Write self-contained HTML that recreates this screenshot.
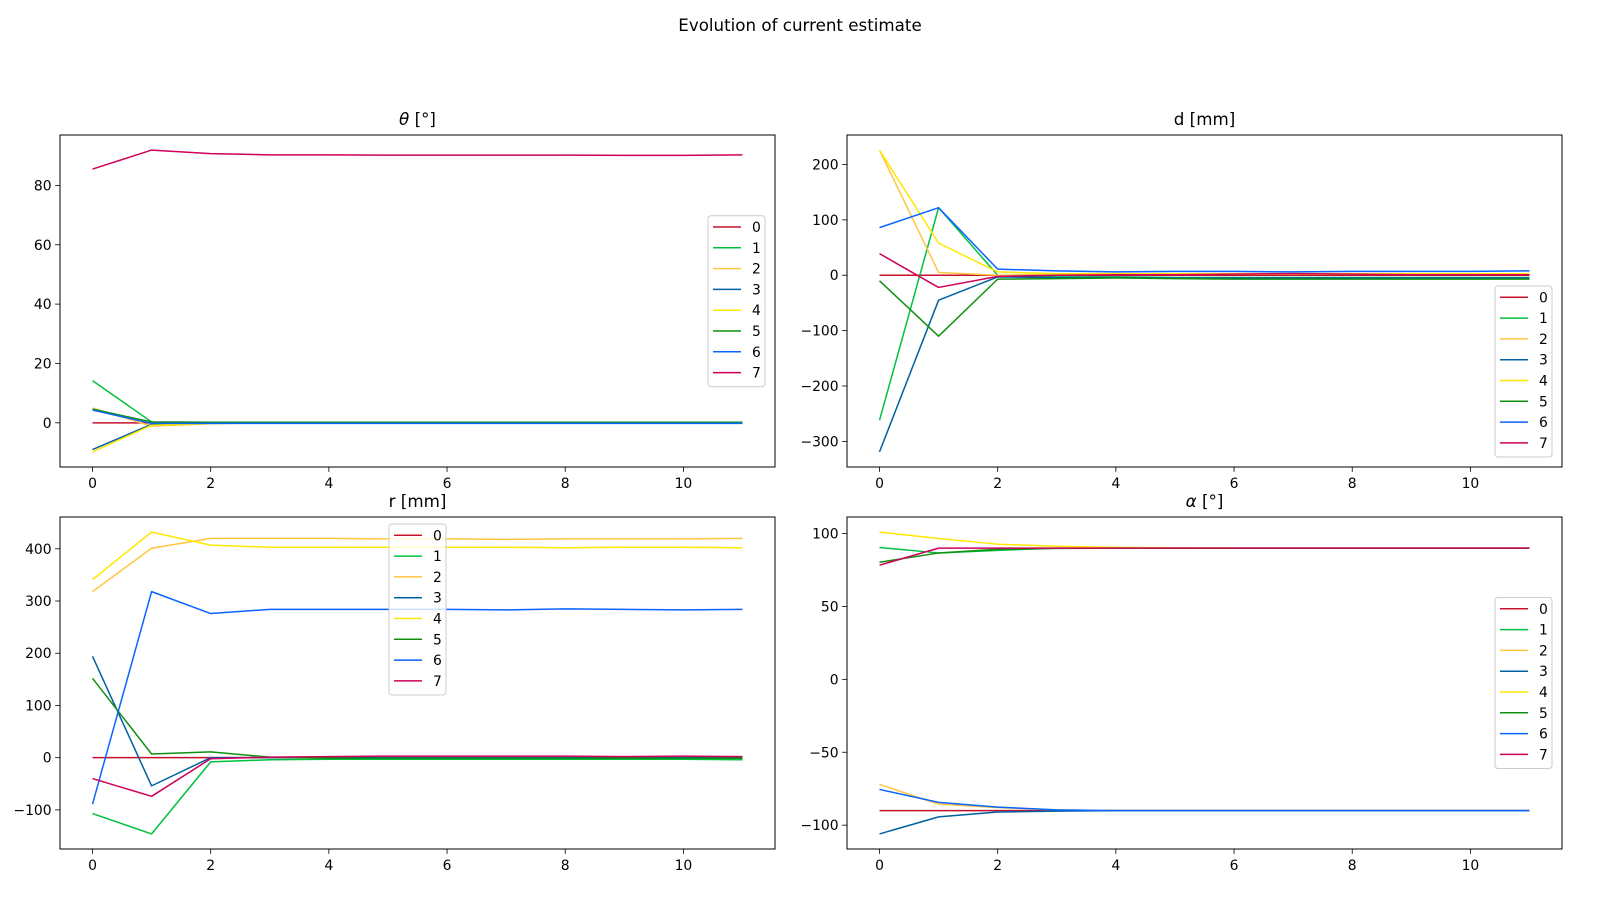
<!DOCTYPE html>
<html><head><meta charset="utf-8"><style>
html,body{margin:0;padding:0;background:#fff;}
svg{display:block;font-family:"DejaVu Sans","Liberation Sans",sans-serif;}
</style></head><body>
<svg id="fig" width="1600" height="900" viewBox="0 0 1600 900">
<text x="800" y="31" text-anchor="middle" font-size="16.7" fill="#000">Evolution of current estimate</text>
</svg>
<script>
const seriesNames = ["0","1","2","3","4","5","6","7"];
const colors = ["#c8102e","#00c040","#ffc640","#0060a0","#ffe800","#109010","#0a64ff","#d0005a"];
const xValues = [0,1,2,3,4,5,6,7,8,9,10,11];
const xTicks = [0,2,4,6,8,10];

const thetaS0 = [0,0,0,0,0,0,0,0,0,0,0,0];
const thetaS1 = [14.2,0.3,0.2,0.2,0.2,0.2,0.2,0.2,0.2,0.2,0.2,0.2];
const thetaS2 = [5,-1.1,-0.3,0,0,0,0,0,0,0,0,0];
const thetaS3 = [-9,-0.5,-0.1,-0.1,-0.1,-0.1,-0.1,-0.1,-0.1,-0.1,-0.1,-0.1];
const thetaS4 = [-9.8,-0.8,-0.2,0,0,0,0,0,0,0,0,0];
const thetaS5 = [4.6,0.3,0.2,0.2,0.2,0.2,0.2,0.2,0.2,0.2,0.2,0.2];
const thetaS6 = [4.3,-0.2,-0.2,-0.2,-0.2,-0.2,-0.2,-0.2,-0.2,-0.2,-0.2,-0.2];
const thetaS7 = [85.5,91.9,90.7,90.3,90.3,90.2,90.2,90.2,90.2,90.1,90.1,90.3];
const thetaTicks = [0,20,40,60,80];

const dS0 = [0,0,0,0,0,0,0,0,0,0,0,0];
const dS1 = [-262,122,0,-3,-3,-4,-4,-4,-4,-4,-4,-4];
const dS2 = [226,5,0,2,2,2,2,2,2,2,2,2];
const dS3 = [-319,-45,-3,-4,-4,-5,-5,-5,-5,-5,-5,-5];
const dS4 = [226,58,6,3,3,3,3,3,3,3,3,3];
const dS5 = [-10,-110,-7,-6,-5,-6,-7,-7,-7,-7,-7,-7];
const dS6 = [86,122,11,8,6,7,7,6,7,7,7,8];
const dS7 = [39,-22,-2,0,1,1,2,3,2,1,1,1];
const dTicks = [-300,-200,-100,0,100,200];

const rS0 = [0,0,0,0,0,0,0,0,0,0,0,0];
const rS1 = [-107,-146,-8,-4,-3,-3,-3,-3,-3,-3,-3,-4];
const rS2 = [318,401,420,420,420,419,419,418,419,419,419,420];
const rS3 = [194,-54,0,0,0,0,0,0,0,0,0,0];
const rS4 = [341,432,407,403,403,403,403,403,402,403,403,402];
const rS5 = [152,7,11,1,-1,-1,-1,-1,-1,-1,-1,-1];
const rS6 = [-89,318,276,284,284,284,284,283,285,284,283,284];
const rS7 = [-40,-74,-2,1,2,3,3,3,3,2,3,2];
const rTicks = [-100,0,100,200,300,400];

const aS0 = [-90,-90,-90,-90,-90,-90,-90,-90,-90,-90,-90,-90];
const aS1 = [90.4,86.7,88.5,90,90,90,90,90,90,90,90,90];
const aS2 = [-72,-85.6,-88,-89.5,-90,-90,-90,-90,-90,-90,-90,-90];
const aS3 = [-106,-94.3,-91,-90.4,-90,-90,-90,-90,-90,-90,-90,-90];
const aS4 = [101,96.6,92.7,91.3,90.5,90.2,90,90,90,90,90,90];
const aS5 = [80.3,86.7,89.2,89.8,90,90,90,90,90,90,90,90];
const aS6 = [-75.5,-84.4,-87.6,-89.5,-90,-90,-90,-90,-90,-90,-90,-90];
const aS7 = [78.3,90,90,90,90,90,90,90,90,90,90,90];
const aTicks = [-100,-50,0,50,100];

const NS = "http://www.w3.org/2000/svg";
const svg = document.getElementById("fig");
function mk(tag, attrs, parent){
  const e = document.createElementNS(NS, tag);
  for (const k in attrs) e.setAttribute(k, attrs[k]);
  (parent||svg).appendChild(e);
  return e;
}

function drawPanel(key, L, T, W, H, series, yTicks, titleParts, legendPos){
  const g = mk("g", {});
  
  
  let mn = Infinity, mx = -Infinity;
  series.forEach(s => s.forEach(v => { mn = Math.min(mn, v); mx = Math.max(mx, v); }));
  const pad = (mx - mn) * 0.05;
  const y0 = mn - pad, y1 = mx + pad;
  const xmin = -0.55, xmax = 11.55;
  const X = v => L + (v - xmin) / (xmax - xmin) * W;
  const Y = v => T + (y1 - v) / (y1 - y0) * H;

  series.forEach((s, i) => {
    const pts = s.map((v, j) => X(xValues[j]).toFixed(2) + "," + Y(v).toFixed(2)).join(" ");
    const pl = mk("polyline", {points: pts, fill: "none", stroke: colors[i], "stroke-width": 1.5, "stroke-linejoin": "round"}, g);
    
    
  });

  const frame = mk("rect", {x: L, y: T, width: W, height: H, fill: "none", stroke: "#000", "stroke-width": 1}, g);
  
  

  xTicks.forEach(t => {
    const x = X(t);
    mk("line", {x1: x, y1: T + H, x2: x, y2: T + H + 4.9, stroke: "#000", "stroke-width": 0.8}, g);
    const tx = mk("text", {x: x, y: T + H + 21, "text-anchor": "middle", "font-size": 13.9, fill: "#000"}, g);
    tx.textContent = t;
    
    
  });
  yTicks.forEach(t => {
    const y = Y(t);
    mk("line", {x1: L - 4.9, y1: y, x2: L, y2: y, stroke: "#000", "stroke-width": 0.8}, g);
    const ty = mk("text", {x: L - 8.4, y: y + 5, "text-anchor": "end", "font-size": 13.9, fill: "#000"}, g);
    ty.textContent = t < 0 ? "\u2212" + Math.abs(t) : String(t);
    
    
  });

  const tt = mk("text", {x: L + W / 2, y: T - 10, "text-anchor": "middle", "font-size": 16.7, fill: "#000"}, g);
  
  
  titleParts.forEach(p => {
    const ts = mk("tspan", p[1] ? {"font-style": "italic"} : {}, tt);
    ts.textContent = p[0];
  });

  const lw = 57, lh = 171;
  let lx, ly;
  if (legendPos === "ur") { lx = L + W - 10 - lw; ly = T + 10; }
  if (legendPos === "ur2") { lx = L + W - 10 - lw; ly = T + 80.7; }
  if (legendPos === "lr") { lx = L + W - 10 - lw; ly = T + H - 10 - lh; }
  if (legendPos === "uc") { lx = L + W / 2 - lw / 2; ly = T + 7; }
  if (legendPos === "cr") { lx = L + W - 10 - lw; ly = T + H / 2 - lh / 2; }
  const lg = mk("g", {}, g);
  
  
  mk("rect", {x: lx, y: ly, width: lw, height: lh, rx: 3, fill: "#fff", "fill-opacity": 0.8, stroke: "#ccc", "stroke-width": 1}, lg);
  seriesNames.forEach((n, i) => {
    const ey = ly + 11.3 + i * 20.8;
    const le = mk("g", {}, lg);
    
    
    mk("line", {x1: lx + 5, y1: ey, x2: lx + 33, y2: ey, stroke: colors[i], "stroke-width": 1.5}, le);
    const lt = mk("text", {x: lx + 44, y: ey + 5, "font-size": 13.9, fill: "#000"}, le);
    lt.textContent = n;
  });
}

drawPanel("theta", 60, 135, 715, 332, [thetaS0,thetaS1,thetaS2,thetaS3,thetaS4,thetaS5,thetaS6,thetaS7], thetaTicks, [["\u03b8",true],[" [\u00b0]",false]], "ur2");
drawPanel("d", 847, 135, 715, 332, [dS0,dS1,dS2,dS3,dS4,dS5,dS6,dS7], dTicks, [["d [mm]",false]], "lr");
drawPanel("r", 60, 517, 715, 332, [rS0,rS1,rS2,rS3,rS4,rS5,rS6,rS7], rTicks, [["r [mm]",false]], "uc");
drawPanel("alpha", 847, 517, 715, 332, [aS0,aS1,aS2,aS3,aS4,aS5,aS6,aS7], aTicks, [["\u03b1",true],[" [\u00b0]",false]], "cr");
</script>
</body></html>
